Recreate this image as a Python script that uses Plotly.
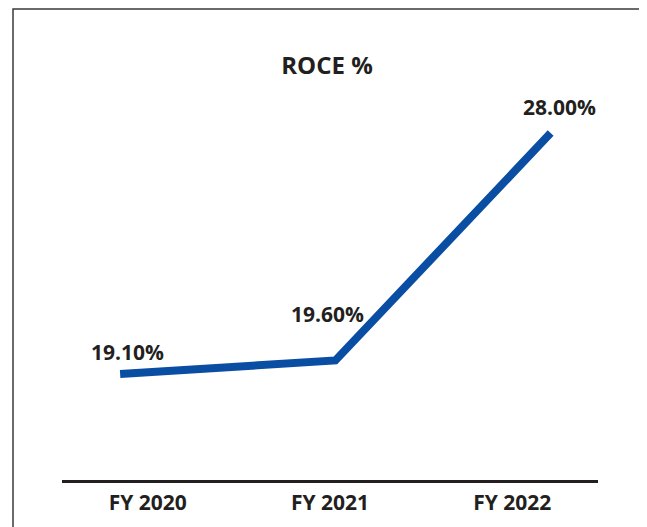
import plotly.graph_objects as go

categories = ["FY 2020", "FY 2021", "FY 2022"]
roce_values = [19.10, 19.60, 28.00]
value_labels = ["19.10%", "19.60%", "28.00%"]
title_text = "ROCE %"

FONT = "Open Sans"
TEXT_COLOR = "#231f20"
LINE_COLOR = "#0a4ea3"

# pixel nudges for the value labels (style, not data)
label_xshift = [7, -8, 9]
label_yshift = [22, 46, 26]

fig = go.Figure()

# invisible trace on the label axis so the categories render as ticks
fig.add_trace(go.Scatter(
    x=categories, y=[None] * len(categories), xaxis="x", yaxis="y",
    mode="markers", showlegend=False, hoverinfo="skip",
))

fig.add_trace(go.Scatter(
    x=categories, y=roce_values, xaxis="x2", yaxis="y",
    mode="lines",
    line=dict(color=LINE_COLOR, width=8),
    showlegend=False,
    cliponaxis=False,
))

annotations = []
for cat, val, lab, dx, dy in zip(categories, roce_values, value_labels,
                                 label_xshift, label_yshift):
    annotations.append(dict(
        x=cat, y=val, xref="x2", yref="y", text=lab, showarrow=False,
        xanchor="center", yanchor="middle", xshift=dx, yshift=dy,
        font=dict(family=FONT, size=21, color=TEXT_COLOR, weight=700),
    ))

fig.update_layout(
    width=647, height=527,
    margin=dict(l=54, r=57, t=2, b=55),
    paper_bgcolor="white", plot_bgcolor="white",
    title=dict(
        text=title_text,
        font=dict(family=FONT, size=24, color=TEXT_COLOR, weight=700),
        x=319 / 647, xref="container", xanchor="center",
        y=1 - 58 / 527, yref="container", yanchor="middle",
    ),
    xaxis=dict(
        type="category", range=[-0.47, 2.47],
        showgrid=False, zeroline=False,
        showline=True, linecolor="#231f20", linewidth=2.5,
        ticks="", ticklabelstandoff=2,
        tickfont=dict(family=FONT, size=21, color=TEXT_COLOR, weight=700),
    ),
    xaxis2=dict(
        type="category", overlaying="x", range=[-0.27, 2.22],
        showgrid=False, zeroline=False, showline=False,
        showticklabels=False, ticks="",
    ),
    yaxis=dict(
        range=[15.186, 32.542], showgrid=False, zeroline=False,
        showline=False, showticklabels=False, ticks="",
    ),
    annotations=annotations,
    shapes=[dict(
        type="rect", xref="paper", yref="paper",
        x0=-0.0914, x1=1.0784, y0=-0.2, y1=1.002,
        line=dict(color="#3a3a3a", width=1.5),
        fillcolor="rgba(0,0,0,0)", layer="above",
    )],
)

fig.write_html("out.html")
